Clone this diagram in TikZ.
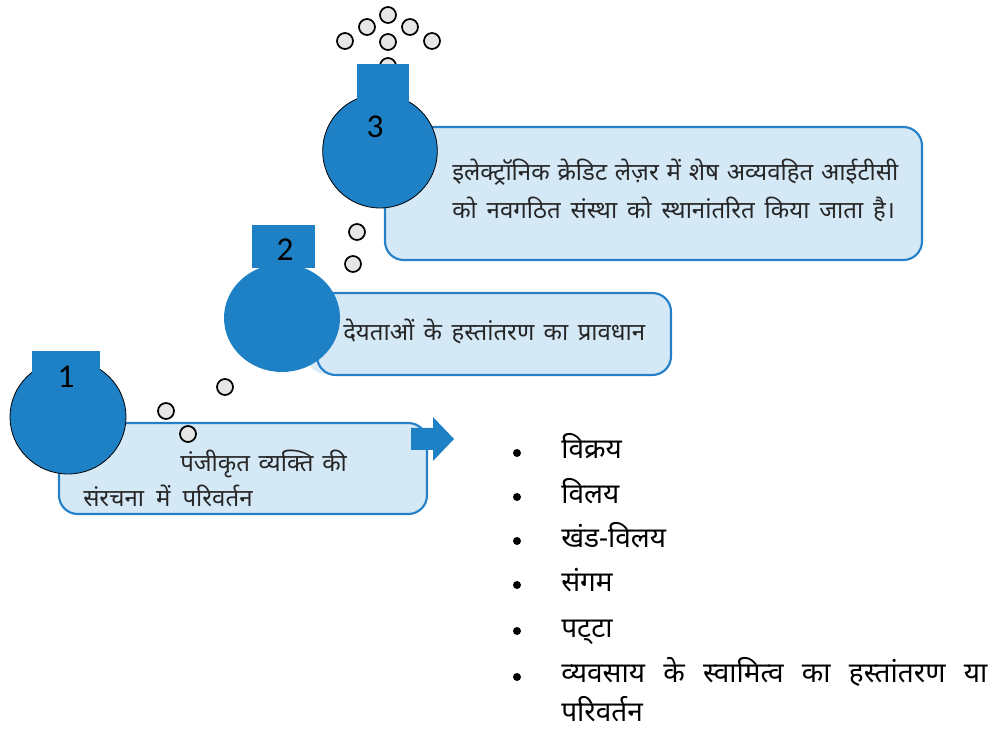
\documentclass[tikz,border=0pt]{standalone}
\usepackage{fontspec}
\newfontfamily\deva[Script=Devanagari]{Noto Sans}
\newfontfamily\numfont{Carlito}
\definecolor{stepblue}{HTML}{1E81C6}
\definecolor{cardfill}{HTML}{D4E8F6}
\definecolor{cardline}{HTML}{2580C8}
\definecolor{bubblefill}{HTML}{E6E6E6}
\begin{document}
\begin{tikzpicture}[x=0.75pt,y=-0.75pt,
  stepball/.style={fill=stepblue,draw=black,line width=0.6pt},
  card/.style={fill=cardfill,draw=cardline,line width=1.6pt,rounded corners=14pt},
  bubble/.style={circle,fill=bubblefill,draw=black,line width=1.3pt,minimum size=12pt,inner sep=0pt},
  cardtext/.style={font=\deva\fontsize{18}{21}\selectfont,text=black!85,inner sep=0pt,anchor=base west},
  listtext/.style={font=\deva\fontsize{21}{24}\selectfont,text=black,inner sep=0pt,anchor=base west},
  dot/.style={circle,fill=black,inner sep=0pt,minimum size=6pt},
  num/.style={font=\numfont\fontsize{25}{28}\selectfont,text=black,inner sep=0pt}]
\useasboundingbox (0,0) rectangle (1006,730);

% bubbles rising above step 3
\node[bubble] (b1) at (345,41) {};
\node[bubble] (b2) at (367,27) {};
\node[bubble] (b3) at (388,15) {};
\node[bubble] (b4) at (410,27) {};
\node[bubble] (b5) at (432,41) {};
\node[bubble] (b6) at (388,42) {};
\node[bubble] (b7) at (388,66) {};

% step 3
\draw[card] (385,127) rectangle (922,260);
\draw[stepball] (380,151) ellipse [x radius=43pt,y radius=42.75pt];
\fill[stepblue] (357,64) rectangle (409,108);
\node[num] (n3) at (375,127) {3};
\node[cardtext] (t3a) at (452,181) {\makebox[334.5pt][s]{इलेक्ट्रॉनिक क्रेडिट लेज़र में शेष अव्यवहित आईटीसी}};
\node[cardtext] (t3b) at (452,219) {\makebox[332pt][s]{को नवगठित संस्था को स्थानांतरित किया जाता है।}};

% bubbles between steps 2 and 3
\node[bubble] (b8) at (357,232) {};
\node[bubble] (b9) at (353,264) {};

% step 2
\fill[cardfill!85!white,rounded corners=14pt] (307,300) rectangle (600,374);
\draw[card] (317,293) rectangle (671,375);
\fill[stepblue] (282,318) ellipse [x radius=43.5pt,y radius=40.5pt];
\fill[stepblue] (252,225) rectangle (315,268);
\node[num] (n2) at (285,250) {2};
\node[cardtext] (t2) at (343,341) {\makebox[226.5pt][s]{देयताओं के हस्तांतरण का प्रावधान}};

% bubbles between steps 1 and 2
\node[bubble] (b10) at (225,387) {};
\node[bubble] (b11) at (166,411) {};

% step 1
\draw[card] (59,423) rectangle (427,514);
\draw[stepball] (68,417) ellipse [x radius=43.5pt,y radius=42.75pt];
\fill[stepblue] (32,351) rectangle (100,386);
\node[num] (n1) at (66,377) {1};
\node[bubble] (b12) at (188,434) {};
\node[cardtext] (t1a) at (180,471) {\makebox[125pt][s]{पंजीकृत व्यक्ति की}};
\node[cardtext] (t1b) at (83,506) {\makebox[127pt][s]{संरचना में परिवर्तन}};

% block arrow leading to the list
\fill[stepblue] (411,428) -- (433,428) -- (433,417) -- (454,439) -- (433,461)
  -- (433,450) -- (411,450) -- cycle;

% list of cases
\node[dot] (d1) at (517,453) {};
\node[listtext] (l1) at (561,459) {विक्रय};
\node[dot] (d2) at (517,497) {};
\node[listtext] (l2) at (561,503) {विलय};
\node[dot] (d3) at (517,541) {};
\node[listtext] (l3) at (561,547) {खंड-विलय};
\node[dot] (d4) at (517,585) {};
\node[listtext] (l4) at (561,591) {संगम};
\node[dot] (d5) at (517,631) {};
\node[listtext] (l5) at (561,637) {पट्^^^^200cटा};
\node[dot] (d6) at (517,677) {};
\node[listtext] (l6a) at (561,682) {\makebox[319.5pt][s]{व्यवसाय के स्वामित्व का हस्तांतरण या}};
\node[listtext] (l6b) at (561,721) {परिवर्तन};
\end{tikzpicture}
\end{document}
